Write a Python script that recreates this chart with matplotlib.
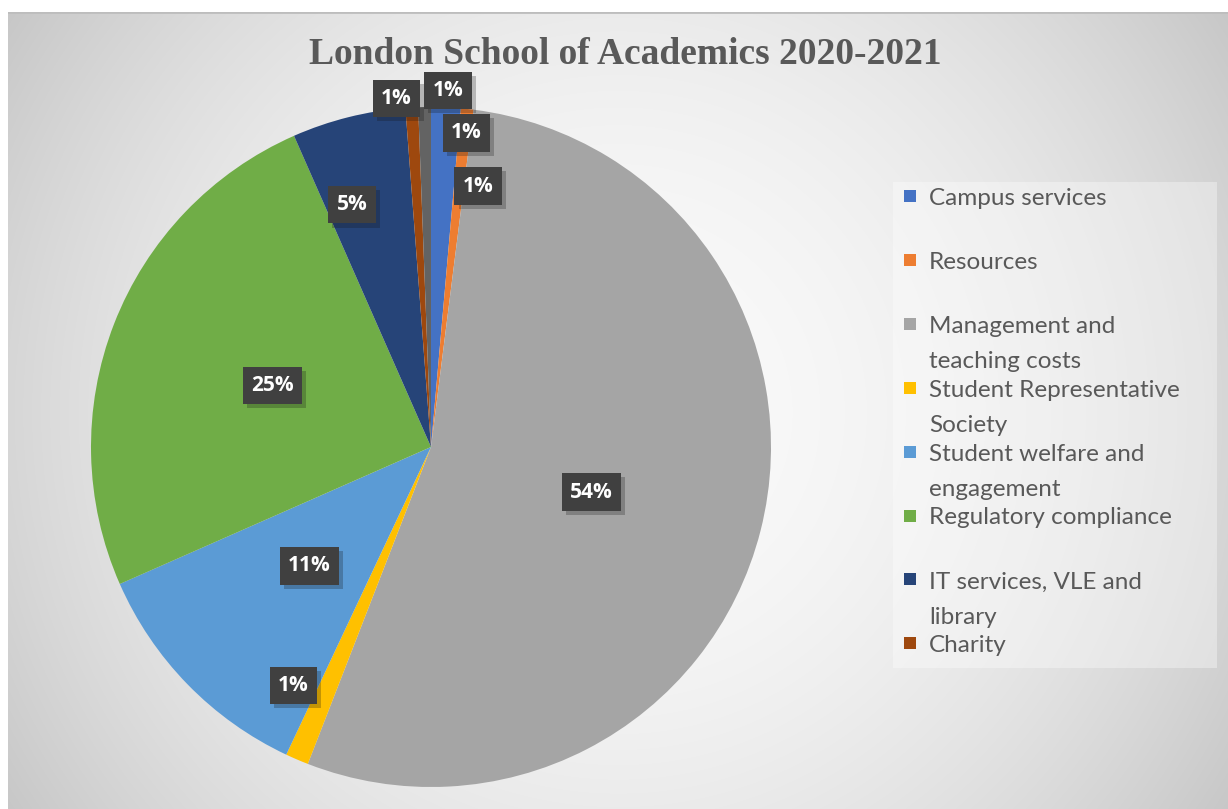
import numpy as np
import matplotlib
matplotlib.use('Agg')
import matplotlib.pyplot as plt
import matplotlib.patheffects as pe
from matplotlib.patches import Rectangle

# ===== data =====
categories = ['Campus services', 'Resources', 'Management and\nteaching costs',
              'Student Representative\nSociety', 'Student welfare and\nengagement',
              'Regulatory compliance', 'IT services, VLE and\nlibrary', 'Charity', '']
shares = [1.4, 0.6, 53.9, 1.1, 11.4, 25.0, 5.4, 0.6, 0.6]
colors = ['#4472C4', '#ED7D31', '#A5A5A5', '#FFC000', '#5B9BD5',
          '#70AD47', '#264478', '#9E480E', '#636363']
title = 'London School of Academics 2020-2021'

# label placement (Excel "best fit" look): radius fraction and angle shift (deg)
label_r = [0.93, 0.78, 0.49, 0.81, 0.50, 0.50, 0.75, 1.03, 1.05]
label_shift = [3.9, 4.1, 1.5, 6.8, 0, 0, -4.0, -2.4, 3.8]

W, H = 1228, 809
fig = plt.figure(figsize=(W / 100, H / 100), dpi=100)

# ===== background (radial gradient) =====
bg = fig.add_axes([8 / W, 0, 1 - 8 / W, 1 - 12 / H])
yy, xx = np.mgrid[0:797, 0:1220]
d = np.hypot(xx - 610, yy - 400)
g = 0.98 - 0.20 * (d / 730) ** 2
bg.imshow(np.dstack([g, g, g]), aspect='auto', extent=[0, 1, 0, 1], zorder=0)
bg.plot([0, 1], [1, 1], color='#bdbdbd', lw=2, transform=bg.transAxes)
bg.set_axis_off()

# ===== pie =====
cx, cy, R = 431, 447, 340
ax = fig.add_axes([(cx - R) / W, (H - cy - R) / H, 2 * R / W, 2 * R / H])
wedges, _ = ax.pie(shares, colors=colors, startangle=90, counterclock=False,
                   radius=1, wedgeprops=dict(linewidth=0))
ax.set_xlim(-1, 1)
ax.set_ylim(-1, 1)
ax.set_aspect('equal')
ax.set_axis_off()

start = 0.0
for v, r, sh in zip(shares, label_r, label_shift):
    mid = start + v / 100 * 360 / 2 + sh
    start += v / 100 * 360
    th = np.radians(mid)
    x, y = r * np.sin(th), r * np.cos(th)
    t = ax.text(x, y, f"{max(1, round(v))}%", ha='center', va='center',
                fontsize=15, fontweight='bold', family='Open Sans', color='white',
                bbox=dict(boxstyle='square,pad=0.4', fc='#404040', ec='none'))
    t.get_bbox_patch().set_path_effects(
        [pe.SimplePatchShadow(offset=(3, -3), alpha=0.25), pe.Normal()])

# ===== title =====
fig.text(625 / W, 1 - 55 / H, title, ha='center', va='center', fontsize=27,
         fontweight='bold', family='Liberation Serif', color='#595959')

# ===== legend (manual) =====
fig.patches.append(Rectangle((893 / W, 1 - 668 / H), 324 / W, 486 / H,
                             transform=fig.transFigure, fc='white', ec='none',
                             alpha=0.35))
for i, (lab, c) in enumerate(zip(categories[:8], colors[:8])):
    yc = 196 + 63.9 * i
    fig.patches.append(Rectangle((904 / W, 1 - (yc + 6) / H), 12 / W, 12 / H,
                                 transform=fig.transFigure, fc=c, ec='none'))
    fig.text(929 / W, 1 - (yc - 8) / H, lab, ha='left', va='top', fontsize=17.5,
             family='Lato', color='#595959', linespacing=1.85)

plt.savefig('out.png', dpi=100)
